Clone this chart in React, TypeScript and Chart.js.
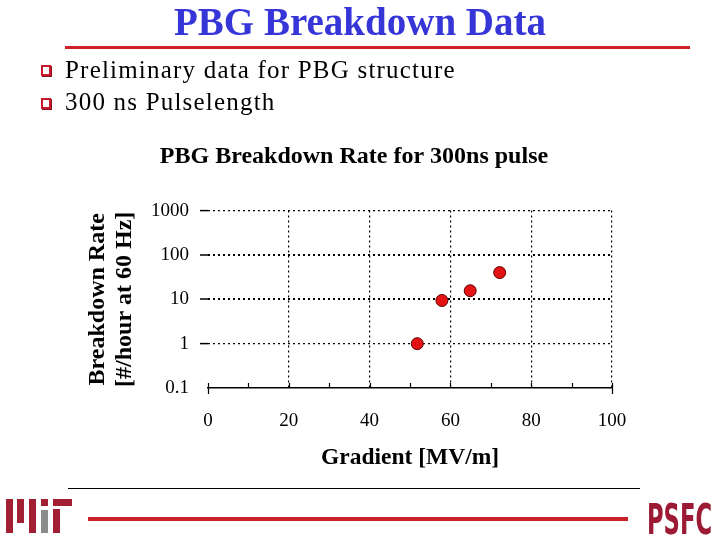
import React, { useEffect, useRef } from "react";
import { Chart, registerables } from "chart.js";

Chart.register(...registerables);

// Measured breakdown points: accelerating gradient [MV/m] vs breakdown rate [#/hour at 60 Hz]
const gradient = [51.8, 57.9, 64.9, 72.2];
const breakdownRate = [1.0, 9.4, 15.6, 40];

// Axis ticks
const yTickValues = [0.1, 1, 10, 100, 1000];
const yTickLabels = ["0.1", "1", "10", "100", "1000"];
const xTickStep = 10;
const xLabelStep = 20;

const slideTitle = "PBG Breakdown Data";
const bullets = ["Preliminary data for PBG structure", "300 ns Pulselength"];
const chartTitle = "PBG Breakdown Rate for 300ns pulse";
const xAxisTitle = "Gradient [MV/m]";
const yAxisTitle = ["Breakdown Rate", "[#/hour at 60 Hz]"];

const SERIF = "'Liberation Serif', 'Times New Roman', serif";
const MAROON = "#a31f34";

// Small upward tick marks along the bottom axis, plus end ticks crossing it
const innerTicks = {
  id: "innerTicks",
  beforeDatasetsDraw(chart: any) {
    const { ctx, chartArea } = chart;
    const xs = chart.scales.x;
    ctx.save();
    ctx.strokeStyle = "#000";
    ctx.lineWidth = 1.2;
    ctx.setLineDash([]);
    for (const t of xs.ticks) {
      const px = Math.round(xs.getPixelForValue(t.value)) + 0.5;
      const isEnd = t.value === xs.min || t.value === xs.max;
      ctx.beginPath();
      ctx.moveTo(px, chartArea.bottom - 5);
      ctx.lineTo(px, chartArea.bottom + (isEnd ? 6 : 0));
      ctx.stroke();
    }
    ctx.restore();
  },
};

function BreakdownChart() {
  const ref = useRef<HTMLCanvasElement | null>(null);

  useEffect(() => {
    if (!ref.current) return;
    const points = gradient.map((x, i) => ({ x, y: breakdownRate[i] }));
    const chart = new Chart(ref.current, {
      type: "scatter",
      data: {
        datasets: [
          {
            data: points,
            pointRadius: 6,
            pointHoverRadius: 6,
            pointBackgroundColor: "#e31313",
            pointBorderColor: "#600000",
            pointBorderWidth: 1,
            showLine: false,
          },
        ],
      },
      options: {
        animation: false,
        responsive: false,
        devicePixelRatio: 1,
        layout: { padding: { left: 96, right: 108, top: 143, bottom: 60 } },
        plugins: {
          legend: { display: false },
          tooltip: { enabled: false },
          title: {
            display: true,
            text: chartTitle,
            color: "#000",
            font: { family: SERIF, size: 24, weight: "bold", lineHeight: 1.15 },
            padding: { top: 0, bottom: 40 },
          },
        },
        scales: {
          x: {
            type: "linear",
            position: "bottom",
            min: 0,
            max: 100,
            ticks: {
              stepSize: xTickStep,
              autoSkip: false,
              maxRotation: 0,
              padding: 22,
              color: "#000",
              font: { family: SERIF, size: 19 },
              callback: (v: any) => (Number(v) % xLabelStep === 0 ? String(v) : ""),
            },
            grid: {
              drawTicks: false,
              lineWidth: 1.2,
              color: (c: any) =>
                c.tick && c.tick.value % xLabelStep === 0 && c.tick.value !== 0 ? "#000" : "transparent",
            },
            border: { display: true, color: "#000", width: 1.5, dash: [2, 3] },
            title: {
              display: true,
              text: xAxisTitle,
              color: "#000",
              font: { family: SERIF, size: 23.5, weight: "bold" },
              padding: { top: 0, bottom: 8 },
            },
            afterFit: (s: any) => {
              s.height = 92;
            },
          },
          y: {
            type: "logarithmic",
            position: "left",
            min: 0.1,
            max: 1000,
            afterBuildTicks: (s: any) => {
              s.ticks = yTickValues.map((value) => ({ value }));
            },
            ticks: {
              autoSkip: false,
              padding: 11,
              color: "#000",
              font: { family: SERIF, size: 19 },
              callback: (v: any) => {
                const i = yTickValues.indexOf(Number(v));
                return i >= 0 ? yTickLabels[i] : "";
              },
            },
            grid: {
              drawTicks: true,
              tickLength: 8,
              tickWidth: 1.5,
              lineWidth: (c: any) => (c.tick && (c.tick.value === 10 || c.tick.value === 100) ? 2 : 1.2),
              color: (c: any) => (c.tick && c.tick.value === 0.1 ? "transparent" : "#000"),
              tickColor: (c: any) => (c.tick && c.tick.value === 0.1 ? "transparent" : "#000"),
            },
            border: { display: false, dash: [2, 3] },
            title: {
              display: true,
              text: yAxisTitle,
              color: "#000",
              font: { family: SERIF, size: 24, weight: "bold", lineHeight: 1.125 },
              padding: { top: -11.5, bottom: 0 },
            },
            afterFit: (s: any) => {
              s.width = 112;
            },
          },
        },
      } as any,
      plugins: [innerTicks],
    });
    return () => chart.destroy();
  }, []);

  return (
    <canvas
      ref={ref}
      width={720}
      height={540}
      style={{ position: "absolute", left: 0, top: 0, width: 720, height: 540 }}
    />
  );
}

function Bullet({ top }: { top: number }) {
  return (
    <div
      style={{
        position: "absolute",
        left: 41,
        top,
        width: 10,
        height: 11,
        boxSizing: "border-box",
        border: "2px solid #c8182c",
        background: "#fff",
        boxShadow: "1px 1px 0 #8a1020",
      }}
    />
  );
}

function MitLogo() {
  const bar = (left: number, top: number, w: number, h: number, color: string) => (
    <div style={{ position: "absolute", left, top, width: w, height: h, background: color }} />
  );
  return (
    <>
      {bar(6, 499, 7, 34, MAROON)}
      {bar(17, 499, 7, 24, MAROON)}
      {bar(29, 499, 7, 34, MAROON)}
      {bar(41, 499, 7, 7, MAROON)}
      {bar(41, 510, 7, 23, "#8c8c8c")}
      {bar(53, 499, 19, 7, MAROON)}
      {bar(53, 509, 7, 24, MAROON)}
    </>
  );
}

export default function App() {
  return (
    <div
      style={{
        position: "absolute",
        left: 0,
        top: 0,
        width: 720,
        height: 540,
        background: "#fff",
        overflow: "hidden",
      }}
    >
      <BreakdownChart />
      <div
        style={{
          position: "absolute",
          left: 0,
          top: 0,
          width: 720,
          textAlign: "center",
          fontFamily: SERIF,
          fontWeight: "bold",
          fontSize: 39,
          lineHeight: "44px",
          color: "#3535d8",
        }}
      >
        {slideTitle}
      </div>
      <div style={{ position: "absolute", left: 65, top: 46, width: 625, height: 3, background: "#d0202a" }} />
      {bullets.map((b, i) => (
        <React.Fragment key={b}>
          <Bullet top={65 + i * 33} />
          <div
            style={{
              position: "absolute",
              left: 65,
              top: 55 + i * 32,
              fontFamily: SERIF,
              fontSize: 25,
              letterSpacing: "1.2px",
              lineHeight: "30px",
              color: "#000",
              whiteSpace: "nowrap",
            }}
          >
            {b}
          </div>
        </React.Fragment>
      ))}
      <div style={{ position: "absolute", left: 68, top: 488, width: 572, height: 1, background: "#000" }} />
      <div style={{ position: "absolute", left: 88, top: 517, width: 540, height: 4, background: "#cc2029" }} />
      <MitLogo />
      <div
        style={{
          position: "absolute",
          left: 647,
          top: 496,
          fontFamily: "'Liberation Sans Narrow', 'DejaVu Sans Condensed', sans-serif",
          fontWeight: "bold",
          fontSize: 42,
          lineHeight: "48px",
          color: "#9c1a33",
          transform: "scaleX(0.6)",
          transformOrigin: "left top",
          whiteSpace: "nowrap",
        }}
      >
        PSFC
      </div>
    </div>
  );
}
